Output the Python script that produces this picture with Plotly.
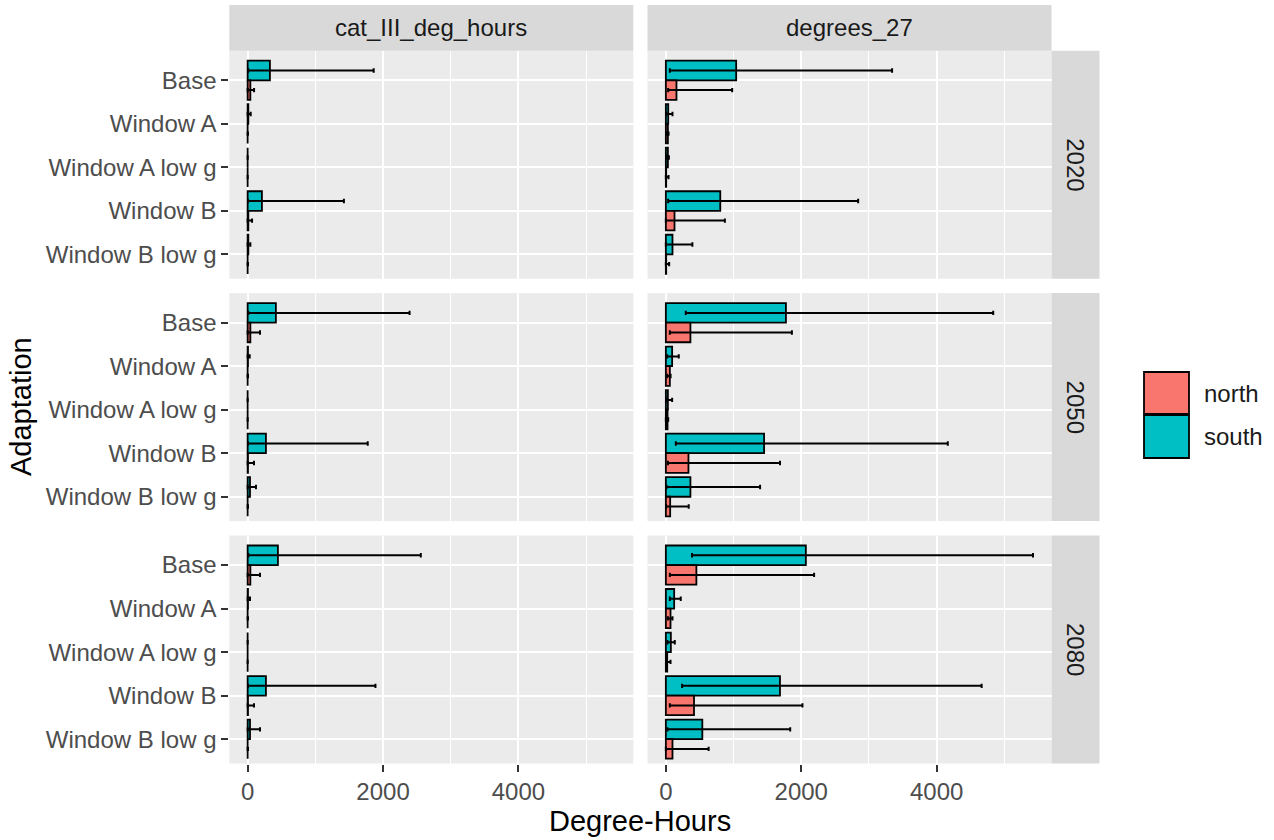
import plotly.graph_objects as go

# ---------------- data ----------------
categories = ["Base", "Window A", "Window A low g", "Window B", "Window B low g"]
metrics = ["cat_III_deg_hours", "degrees_27"]
years = ["2020", "2050", "2080"]
regions = ["north", "south"]
region_colors = ["#F8766D", "#00BFC4"]
x_tick_vals = [0, 2000, 4000]
x_tick_text = ["0", "2000", "4000"]

# cat_III_deg_hours
cat3_2020_south_mean = [329, 10, 0, 211, 10]
cat3_2020_south_low = [10, 0, 0, 5, 0]
cat3_2020_south_high = [1862, 45, 0, 1422, 40]
cat3_2020_north_mean = [40, 0, 0, 10, 0]
cat3_2020_north_low = [0, 0, 0, 0, 0]
cat3_2020_north_high = [95, 5, 0, 65, 5]

cat3_2050_south_mean = [417, 5, 0, 270, 35]
cat3_2050_south_low = [10, 0, 0, 5, 0]
cat3_2050_south_high = [2392, 30, 0, 1774, 123]
cat3_2050_north_mean = [40, 0, 0, 5, 0]
cat3_2050_north_low = [0, 0, 0, 0, 0]
cat3_2050_north_high = [182, 5, 0, 94, 5]

cat3_2080_south_mean = [447, 5, 0, 270, 35]
cat3_2080_south_low = [10, 0, 0, 5, 0]
cat3_2080_south_high = [2558, 35, 0, 1888, 182]
cat3_2080_north_mean = [40, 0, 0, 5, 0]
cat3_2080_north_low = [0, 0, 0, 0, 0]
cat3_2080_north_high = [182, 5, 0, 94, 5]

# degrees_27
deg27_2020_south_mean = [1039, 35, 30, 804, 98]
deg27_2020_south_low = [59, 5, 5, 34, 0]
deg27_2020_south_high = [3342, 98, 45, 2841, 392]
deg27_2020_north_mean = [157, 30, 5, 128, 5]
deg27_2020_north_low = [34, 5, 0, 0, 0]
deg27_2020_north_high = [980, 40, 40, 872, 49]

deg27_2050_south_mean = [1774, 93, 30, 1451, 363]
deg27_2050_south_low = [294, 19, 5, 147, 10]
deg27_2050_south_high = [4836, 191, 93, 4165, 1392]
deg27_2050_north_mean = [363, 59, 25, 334, 64]
deg27_2050_north_low = [59, 20, 0, 30, 5]
deg27_2050_north_high = [1862, 70, 35, 1686, 338]

deg27_2080_south_mean = [2068, 123, 74, 1686, 539]
deg27_2080_south_low = [387, 59, 24, 240, 24]
deg27_2080_south_high = [5424, 220, 132, 4665, 1837]
deg27_2080_north_mean = [451, 69, 20, 416, 98]
deg27_2080_north_low = [59, 30, 5, 59, 0]
deg27_2080_north_high = [2190, 98, 69, 2018, 632]

panel_data = {
    ("cat_III_deg_hours", "2020"): (cat3_2020_north_mean, cat3_2020_north_low, cat3_2020_north_high,
                                    cat3_2020_south_mean, cat3_2020_south_low, cat3_2020_south_high),
    ("cat_III_deg_hours", "2050"): (cat3_2050_north_mean, cat3_2050_north_low, cat3_2050_north_high,
                                    cat3_2050_south_mean, cat3_2050_south_low, cat3_2050_south_high),
    ("cat_III_deg_hours", "2080"): (cat3_2080_north_mean, cat3_2080_north_low, cat3_2080_north_high,
                                    cat3_2080_south_mean, cat3_2080_south_low, cat3_2080_south_high),
    ("degrees_27", "2020"): (deg27_2020_north_mean, deg27_2020_north_low, deg27_2020_north_high,
                             deg27_2020_south_mean, deg27_2020_south_low, deg27_2020_south_high),
    ("degrees_27", "2050"): (deg27_2050_north_mean, deg27_2050_north_low, deg27_2050_north_high,
                             deg27_2050_south_mean, deg27_2050_south_low, deg27_2050_south_high),
    ("degrees_27", "2080"): (deg27_2080_north_mean, deg27_2080_north_low, deg27_2080_north_high,
                             deg27_2080_south_mean, deg27_2080_south_low, deg27_2080_south_high),
}

# ---------------- layout geometry (pixels) ----------------
W, H = 1274, 840
FONT = "Liberation Sans, Arial, sans-serif"
TICK_SIZE = 24


def fx(px):
    return px / W


def fy(py):
    return 1 - py / H


col_px = [(229.3, 633.3), (647.5, 1051.5)]
row_px = [(50.7, 278.7), (293.1, 521.1), (535.5, 763.5)]
strip_top = (5.0, 50.7)
strip_right = (1051.5, 1099.5)
x_range = [-271, 5697]
y_range = [4.56, -0.68]

fig = go.Figure()
layout = dict(
    width=W, height=H,
    margin=dict(l=0, r=0, t=0, b=0),
    paper_bgcolor="white",
    plot_bgcolor="#EBEBEB",
    showlegend=False,
    barmode="group",
    bargap=0.1,
    bargroupgap=0.0,
    font=dict(family=FONT, color="#4D4D4D"),
)
shapes = []
annotations = []

for r, yr in enumerate(years):
    for c, met in enumerate(metrics):
        n = r * 2 + c + 1
        xa = "x" if n == 1 else f"x{n}"
        ya = "y" if n == 1 else f"y{n}"
        nm, nl, nh, sm, sl, sh = panel_data[(met, yr)]
        series = [("south", sm, sl, sh, region_colors[1]), ("north", nm, nl, nh, region_colors[0])]
        for name, m, lo, hi, col in series:
            fig.add_trace(go.Bar(
                name=name, y=categories, x=m, orientation="h",
                xaxis=xa, yaxis=ya,
                marker=dict(color=col, line=dict(color="black", width=1.8)),
                error_x=dict(type="data", symmetric=False,
                             array=[h - v for h, v in zip(hi, m)],
                             arrayminus=[v - l for v, l in zip(m, lo)],
                             color="black", thickness=2, width=2.2),
                showlegend=False,
            ))
        xkey = "xaxis" if n == 1 else f"xaxis{n}"
        ykey = "yaxis" if n == 1 else f"yaxis{n}"
        layout[xkey] = dict(
            domain=[fx(col_px[c][0]), fx(col_px[c][1])],
            anchor=ya, range=x_range, automargin=False,
            tickmode="array", tickvals=x_tick_vals, ticktext=x_tick_text,
            showticklabels=(r == 2),
            ticks="outside" if r == 2 else "", ticklen=7, tickwidth=2, tickcolor="#333333",
            tickfont=dict(family=FONT, size=TICK_SIZE, color="#4D4D4D"),
            showgrid=True, gridcolor="white", gridwidth=2.2,
            minor=dict(tickmode="array", tickvals=[1000, 3000, 5000], showgrid=True,
                       gridcolor="white", gridwidth=1.1, ticks=""),
            zeroline=False, showline=False,
        )
        layout[ykey] = dict(
            domain=[fy(row_px[r][1]), fy(row_px[r][0])],
            anchor=xa, type="category",
            categoryorder="array", categoryarray=categories,
            range=y_range, automargin=False,
            showticklabels=(c == 0),
            ticks="outside" if c == 0 else "", ticklen=7, tickwidth=2, tickcolor="#333333",
            tickfont=dict(family=FONT, size=TICK_SIZE, color="#4D4D4D"),
            showgrid=True, gridcolor="white", gridwidth=2.2,
            zeroline=False, showline=False,
        )

# top strips
for c, met in enumerate(metrics):
    shapes.append(dict(type="rect", xref="paper", yref="paper",
                       x0=fx(col_px[c][0]), x1=fx(col_px[c][1]),
                       y0=fy(strip_top[1]), y1=fy(strip_top[0]),
                       fillcolor="#D9D9D9", line=dict(width=0), layer="below"))
    annotations.append(dict(xref="paper", yref="paper",
                            x=fx((col_px[c][0] + col_px[c][1]) / 2),
                            y=fy((strip_top[0] + strip_top[1]) / 2),
                            text=met, showarrow=False,
                            font=dict(family=FONT, size=TICK_SIZE, color="#1A1A1A"),
                            xanchor="center", yanchor="middle"))
# right strips
for r, yr in enumerate(years):
    shapes.append(dict(type="rect", xref="paper", yref="paper",
                       x0=fx(strip_right[0]), x1=fx(strip_right[1]),
                       y0=fy(row_px[r][1]), y1=fy(row_px[r][0]),
                       fillcolor="#D9D9D9", line=dict(width=0), layer="below"))
    annotations.append(dict(xref="paper", yref="paper",
                            x=fx((strip_right[0] + strip_right[1]) / 2),
                            y=fy((row_px[r][0] + row_px[r][1]) / 2),
                            text=yr, showarrow=False, textangle=90,
                            font=dict(family=FONT, size=TICK_SIZE, color="#1A1A1A"),
                            xanchor="center", yanchor="middle"))

# axis titles
annotations.append(dict(xref="paper", yref="paper", x=fx(640), y=fy(821),
                        text="Degree-Hours", showarrow=False,
                        font=dict(family=FONT, size=29, color="black"),
                        xanchor="center", yanchor="middle", borderpad=0))
annotations.append(dict(xref="paper", yref="paper", x=fx(21), y=fy(407),
                        text="Adaptation", showarrow=False, textangle=-90,
                        font=dict(family=FONT, size=29, color="black"),
                        xanchor="center", yanchor="middle"))

# legend (manual)
legend_keys = [(372, 414), (415, 458)]
for i, reg in enumerate(regions):
    y0, y1 = legend_keys[i]
    shapes.append(dict(type="rect", xref="paper", yref="paper",
                       x0=fx(1144), x1=fx(1189), y0=fy(y1), y1=fy(y0),
                       fillcolor=region_colors[i], line=dict(color="black", width=1.8)))
    annotations.append(dict(xref="paper", yref="paper", x=fx(1202), y=fy((y0 + y1) / 2),
                            text=reg, showarrow=False,
                            font=dict(family=FONT, size=TICK_SIZE, color="#1A1A1A"),
                            xanchor="left", yanchor="middle"))

layout["shapes"] = shapes
layout["annotations"] = annotations
fig.update_layout(**layout)
fig.write_html("out.html")
